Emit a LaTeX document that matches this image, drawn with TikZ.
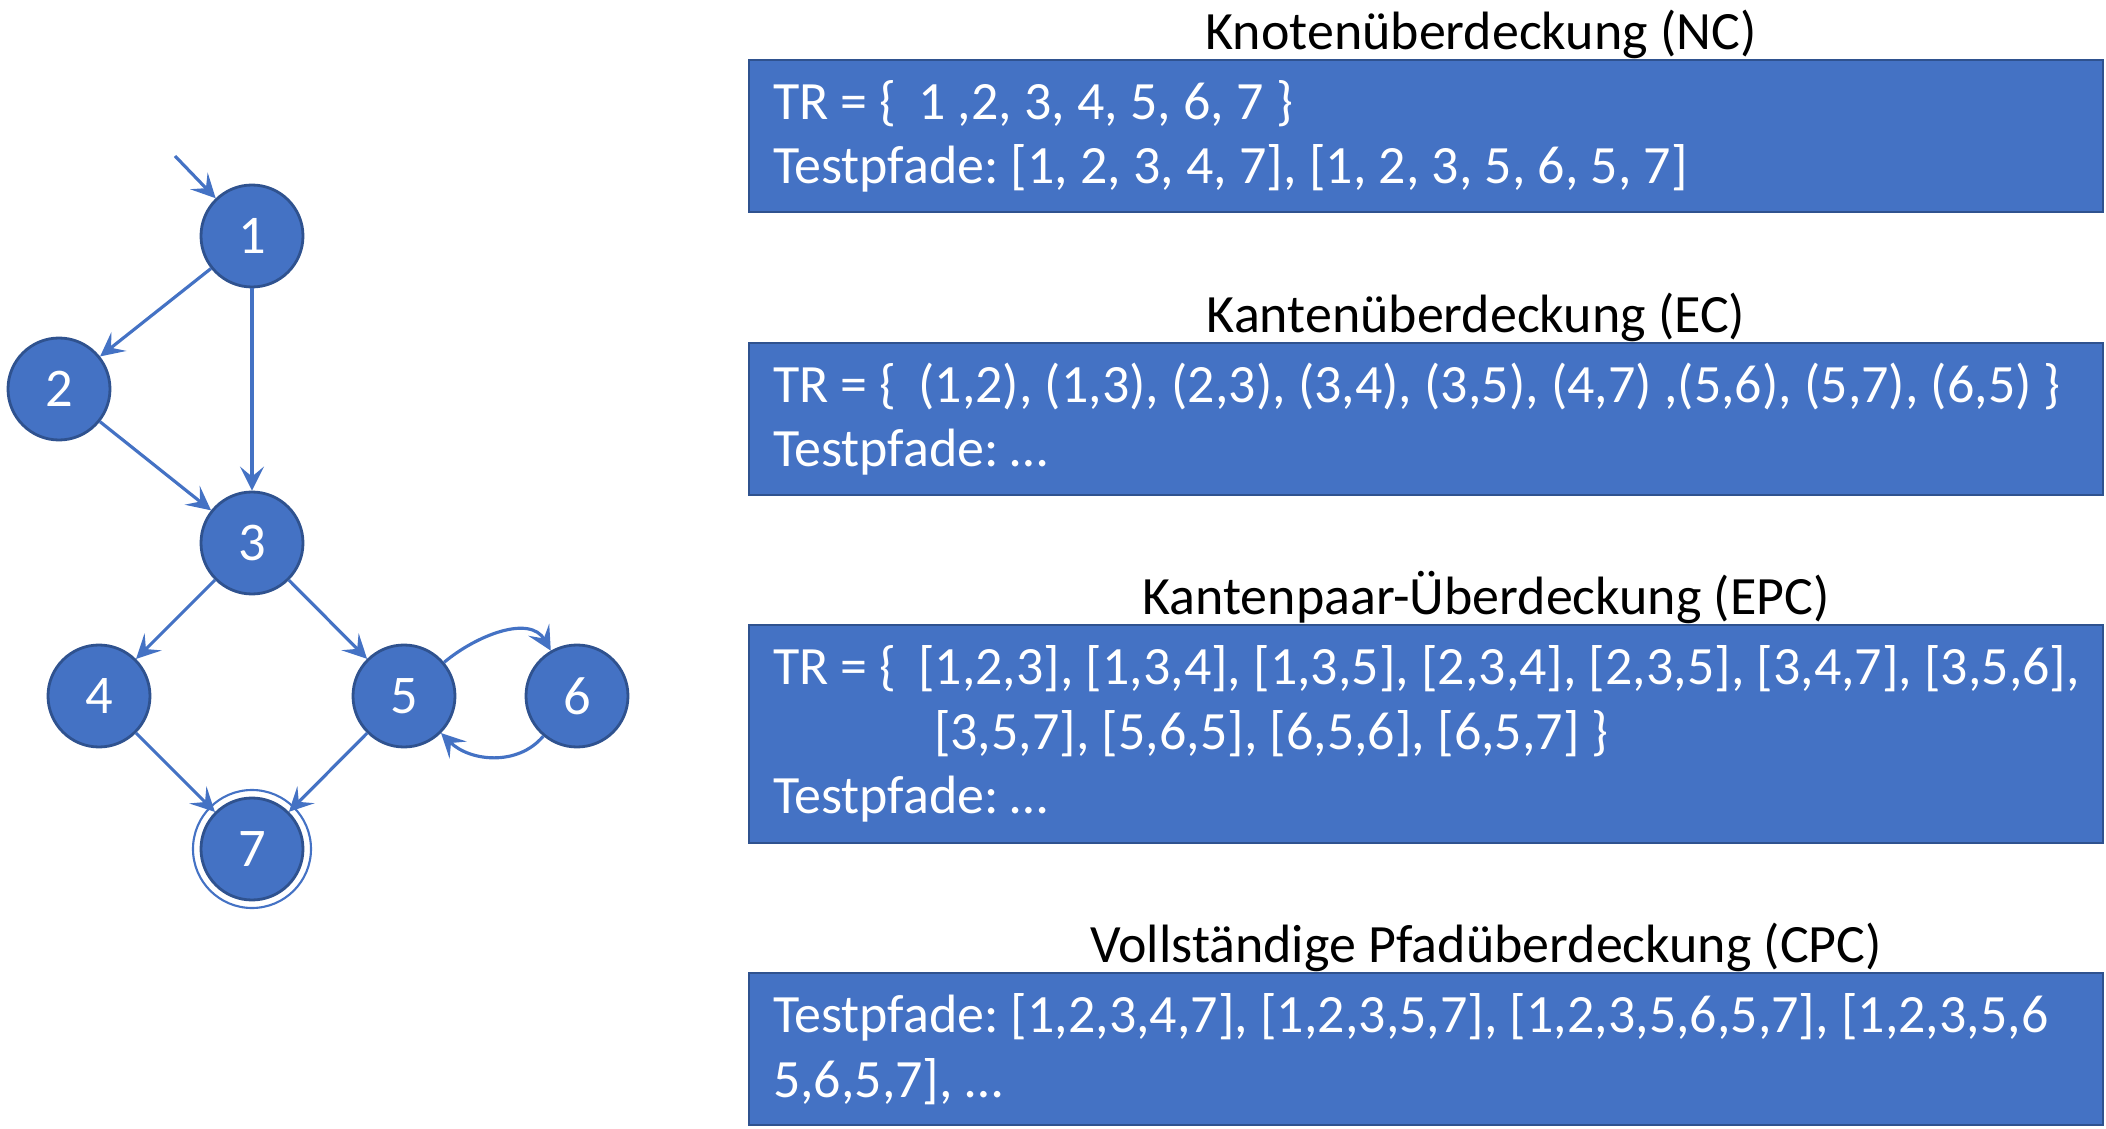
\documentclass[tikz,border=0pt]{standalone}
\usepackage{fontspec}
\setmainfont{Carlito}
\usetikzlibrary{positioning, arrows.meta}

\definecolor{nodeblue}{HTML}{4472C4}
\definecolor{rimblue}{HTML}{2F528F}
\frenchspacing

\begin{document}
\begin{tikzpicture}[
         state/.style={circle, draw=rimblue, fill=nodeblue, line width=0.8pt, minimum size=1.02cm, inner sep=0pt, text=white, font=\fontsize{15.5}{17}\selectfont},
         edge/.style={draw=nodeblue, line width=0.9pt, -{Stealth[length=2.4mm, width=2.4mm, inset=1mm]}},
         coverbox/.style={rectangle, draw=rimblue, fill=nodeblue, line width=0.6pt, anchor=north west, minimum width=13.54cm, text width=13.06cm, inner xsep=0.24cm, align=flush left, text=white, font=\fontsize{15.35}{18.3}\selectfont},
         heading/.style={inner sep=0pt, font=\fontsize{15.35}{18.3}\selectfont}
      ]
         \useasboundingbox (0,0) rectangle (21.06,-11.29);

         % Nodes for states
         \node[state] (n1) at (2.52,-2.36) {1};
         \node[state] (n2) at (0.59,-3.89) {2};
         \node[state] (n3) at (2.52,-5.43) {3};
         \node[state] (n4) at (0.99,-6.96) {4};
         \node[state] (n5) at (4.04,-6.96) {5};
         \node[state] (n6) at (5.77,-6.96) {6};
         \node[state] (n7) at (2.52,-8.49) {7};
         \draw[nodeblue, line width=0.6pt] (n7) circle (0.59cm);
         \coordinate (start) at (1.75,-1.56);

         % Transitions
         \draw[edge] (start) -- (n1);
         \draw[edge] (n1) -- (n2);
         \draw[edge] (n1) -- (n3);
         \draw[edge] (n2) -- (n3);
         \draw[edge] (n3) -- (n4);
         \draw[edge] (n3) -- (n5);
         \draw[edge] (n4) -- (n7);
         \draw[edge] (n5) -- (n7);
         \draw[edge] (n5) to[out=40, in=120] (n6);
         \draw[edge] (n6) to[out=-130, in=-45] (n5);

         % Coverage criteria
         \node[coverbox, minimum height=1.52cm] (b1) at (7.48,-0.59) {
            TR = \{\hspace{0.4em}1 ,2, 3, 4, 5, 6, 7 \}\\
            Testpfade: [1, 2, 3, 4, 7], [1, 2, 3, 5, 6, 5, 7]
         };
         \node[coverbox, minimum height=1.52cm] (b2) at (7.48,-3.42) {
            TR = \{\hspace{0.4em}(1,2), (1,3), (2,3), (3,4), (3,5), (4,7) ,(5,6), (5,7), (6,5) \}\\
            Testpfade: …
         };
         \node[coverbox, minimum height=2.18cm] (b3) at (7.48,-6.24) {
            TR = \{\hspace{0.4em}[1,2,3], [1,3,4], [1,3,5], [2,3,4], [2,3,5], [3,4,7], [3,5,6],\\
            \hspace*{1.61cm}[3,5,7], [5,6,5], [6,5,6], [6,5,7] \}\\
            Testpfade: …
         };
         \node[coverbox, minimum height=1.52cm] (b4) at (7.48,-9.72) {
            Testpfade: [1,2,3,4,7], [1,2,3,5,7], [1,2,3,5,6,5,7], [1,2,3,5,6\\
            5,6,5,7], …
         };

         % Headings
         \node[heading, above=0pt of b1.north, xshift=0.55cm] (t1) {Knotenüberdeckung (NC)};
         \node[heading, above=0pt of b2.north, xshift=0.5cm] (t2) {Kantenüberdeckung (EC)};
         \node[heading, above=0pt of b3.north, xshift=0.6cm] (t3) {Kantenpaar-Überdeckung (EPC)};
         \node[heading, above=0pt of b4.north, xshift=0.6cm] (t4) {Vollständige Pfadüberdeckung (CPC)};

      \end{tikzpicture}
\end{document}
